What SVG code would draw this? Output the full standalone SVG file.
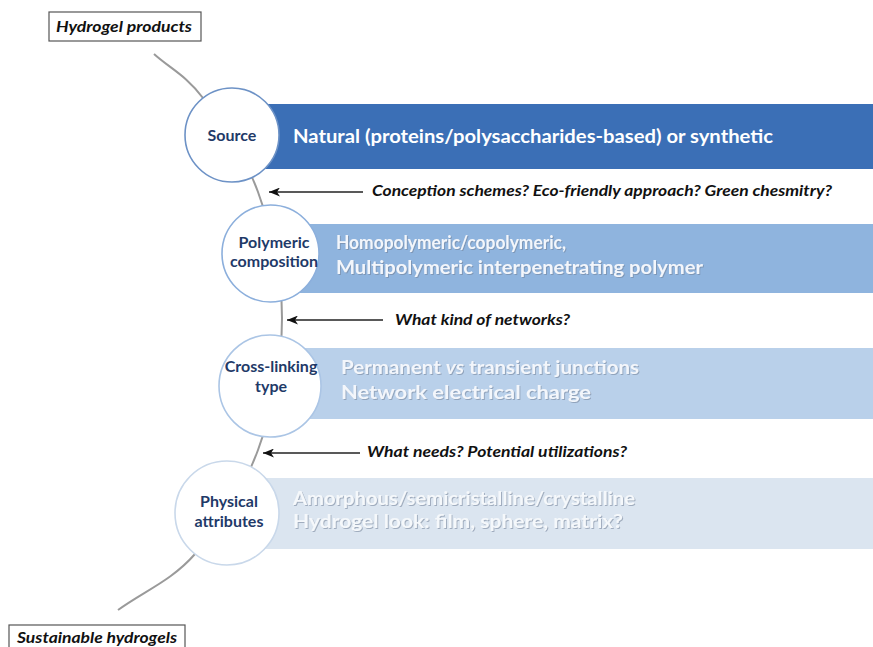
<svg xmlns="http://www.w3.org/2000/svg" width="873" height="647" viewBox="0 0 873 647">
<style>
.curve{fill:none;stroke:#9a9a9a;stroke-width:2}
.arrow{fill:none;stroke:#222;stroke-width:1.5}
.circ{fill:#fff;stroke-width:1.6}
.clabel{font-family:Lato,"Noto Sans",sans-serif;font-weight:bold;font-size:16px;fill:#1f3a68;text-anchor:middle}
.btext{font-family:Lato,"Noto Sans",sans-serif;font-weight:bold;font-size:19px}
.q{font-family:Lato,"Noto Sans",sans-serif;font-weight:bold;font-style:italic;font-size:14.5px;fill:#111}
.title{font-family:Lato,"Noto Sans",sans-serif;font-weight:bold;font-style:italic;font-size:15.5px;fill:#111}
.tbox{fill:#fff;stroke:#555;stroke-width:1.2}
</style>
<defs>
<marker id="ah" markerUnits="userSpaceOnUse" markerWidth="12" markerHeight="9" refX="11" refY="4.5" orient="auto">
<path d="M0,0 L11,4.5 L0,9 L3,4.5 z" fill="#111"/>
</marker>
<filter id="sh" x="-5%" y="-30%" width="110%" height="160%">
<feDropShadow dx="1" dy="1" stdDeviation="0.6" flood-color="#6f7f96" flood-opacity="0.55"/>
</filter>
</defs>

<g id="connectors">
<path class="curve" d="M154,54 C170.3,68.7 185.7,75 203,98 C220.3,121 244.8,155.3 258,192 C271.2,228.7 282,275 282,318 C282,361 272.5,410.7 258,450 C243.5,489.3 218.3,527.3 195,554 C171.7,580.7 143.7,591.3 118,610"/>
<line class="arrow" x1="363" y1="192" x2="269" y2="192" marker-end="url(#ah)"/>
<line class="arrow" x1="383" y1="320" x2="287" y2="320" marker-end="url(#ah)"/>
<line class="arrow" x1="360" y1="453" x2="263" y2="453" marker-end="url(#ah)"/>
</g>

<g id="title-top">
<rect class="tbox" x="49" y="12" width="152" height="29"/>
<text class="title" x="56" y="32" textLength="136" lengthAdjust="spacingAndGlyphs">Hydrogel products</text>
</g>

<g id="title-bottom">
<rect class="tbox" x="9" y="625" width="176" height="30"/>
<text class="title" x="17" y="643" textLength="160" lengthAdjust="spacingAndGlyphs">Sustainable hydrogels</text>
</g>

<g id="node-source">
<rect x="240" y="104" width="633" height="65" fill="#3b6fb6"/>
<circle class="circ" cx="232" cy="135" r="47" stroke="#6d92c6"/>
<text class="clabel" x="232" y="141">Source</text>
<text class="btext" x="293" y="143" fill="#fff" textLength="480" lengthAdjust="spacingAndGlyphs">Natural (proteins/polysaccharides-based) or synthetic</text>
</g>

<g id="node-polymeric">
<rect x="280" y="224" width="593" height="69" fill="#8fb4de"/>
<circle class="circ" cx="270.5" cy="253.5" r="48.5" stroke="#8cafdc"/>
<text class="clabel" x="274" y="248">Polymeric</text>
<text class="clabel" x="274" y="267">composition</text>
<g filter="url(#sh)" fill="#f3f6fb">
<text class="btext" x="336" y="249" textLength="230" lengthAdjust="spacingAndGlyphs">Homopolymeric/copolymeric,</text>
<text class="btext" x="336" y="274" textLength="367" lengthAdjust="spacingAndGlyphs">Multipolymeric interpenetrating polymer</text>
</g>
</g>

<g id="node-crosslinking">
<rect x="280" y="348" width="593" height="71" fill="#b9d0ea"/>
<circle class="circ" cx="270" cy="386" r="51" stroke="#abc5e5"/>
<text class="clabel" x="271" y="372">Cross-linking</text>
<text class="clabel" x="271" y="392">type</text>
<g filter="url(#sh)" fill="#f3f6fb">
<text class="btext" x="341" y="374" textLength="298" lengthAdjust="spacingAndGlyphs">Permanent <tspan font-style="italic">vs</tspan> transient junctions</text>
<text class="btext" x="341" y="399" textLength="250" lengthAdjust="spacingAndGlyphs">Network electrical charge</text>
</g>
</g>

<g id="node-physical">
<rect x="240" y="478" width="633" height="71" fill="#dbe5f0"/>
<circle class="circ" cx="227" cy="513" r="52" stroke="#c9d8ea"/>
<text class="clabel" x="229" y="507">Physical</text>
<text class="clabel" x="229" y="527">attributes</text>
<g filter="url(#sh)" fill="#f5f8fb">
<text class="btext" x="293" y="505" textLength="342" lengthAdjust="spacingAndGlyphs">Amorphous/semicristalline/crystalline</text>
<text class="btext" x="293" y="528" textLength="330" lengthAdjust="spacingAndGlyphs">Hydrogel look: film, sphere, matrix?</text>
</g>
</g>

<g id="q-conception">
<text class="q" x="372" y="196" textLength="460" lengthAdjust="spacingAndGlyphs">Conception schemes? Eco-friendly approach? Green chesmitry?</text>
</g>
<g id="q-networks">
<text class="q" x="395" y="325" textLength="175" lengthAdjust="spacingAndGlyphs">What kind of networks?</text>
</g>
<g id="q-needs">
<text class="q" x="367" y="457" textLength="260" lengthAdjust="spacingAndGlyphs">What needs? Potential utilizations?</text>
</g>
</svg>
